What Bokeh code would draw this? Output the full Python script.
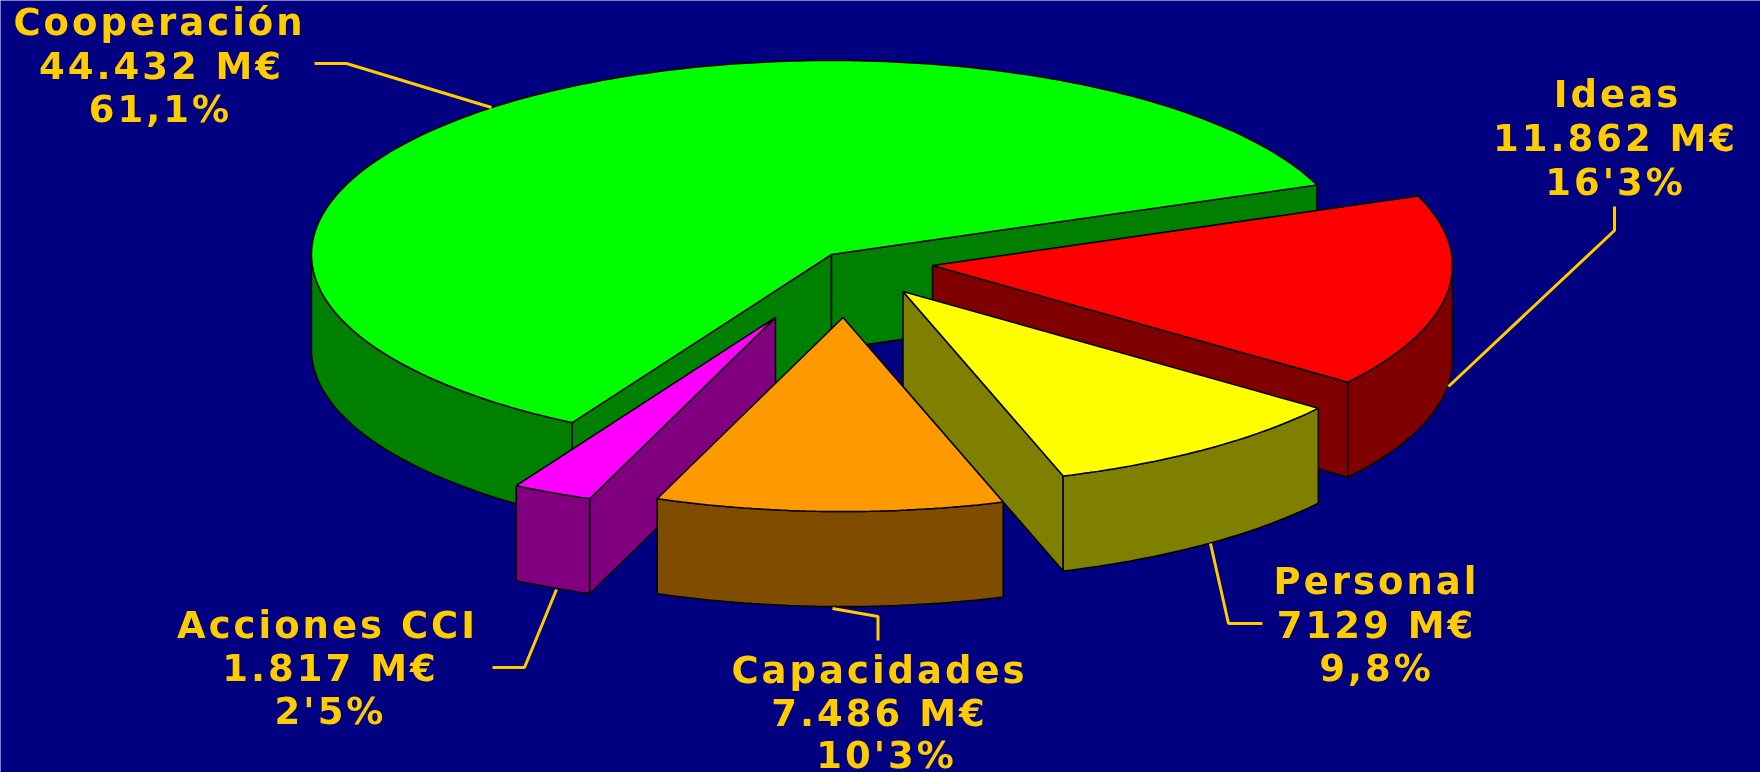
import numpy as np
from bokeh.plotting import figure
from bokeh.models import Range1d, ColumnDataSource
from bokeh.core.properties import value
from bokeh.embed import file_html
from bokeh.resources import INLINE

# ---- data (clockwise from the Ideas slice)
names = ["Ideas", "Personal", "Capacidades", "Acciones CCI", "Cooperación"]
amount_labels = ["11.862 M€", "7129 M€", "7.486 M€", "1.817 M€", "44.432 M€"]
share_labels = ["16'3%", "9,8%", "10'3%", "2'5%", "61,1%"]
# size of each slice as it is drawn in the picture, in percent
drawn_shares = [16.11, 9.74, 10.80, 2.49, 60.86]

# ---- styles
top_colors = ["#FF0000", "#FFFF00", "#FF9900", "#FF00FF", "#00FF00"]
side_colors = ["#800000", "#808000", "#804D00", "#800080", "#008000"]
BG = "#000080"
GOLD = "#FFCC00"

# ---- layout, in page pixels
W, H = 1760, 772
RX, RY, DEPTH = 520, 194, 95
START_DEG = 21.0
LETTER_SPACING = 3
TEXT_DY = -12
slice_centres = [(932, 265), (902.5, 291), (842.5, 317), (775, 317), (831, 254)]
draw_order = [4, 0, 1, 3, 2]
label_xy = [
    [(1617, 106), (1615, 150), (1615, 194)],
    [(1376, 593), (1376, 637), (1376, 680)],
    [(879, 682), (879, 725), (886, 767)],
    [(327, 637), (330, 680), (330, 723)],
    [(159, 34), (161, 78), (160, 121)],
]
leaders = [
    [(1614, 206), (1614, 230), (1448, 386)],
    [(1210, 543), (1228, 623), (1262, 623)],
    [(832, 608), (877.5, 616), (877.5, 640)],
    [(556, 589), (524, 667), (492, 667)],
    [(314, 63), (346, 63), (491, 107)],
]

p = figure(width=W, height=H, output_backend="svg", toolbar_location=None,
           x_range=Range1d(0, W), y_range=Range1d(H, 0),
           x_axis_type=None, y_axis_type=None,
           min_border=0, outline_line_color=None,
           background_fill_color=BG, border_fill_color=BG,
           styles={"position": "fixed", "left": "0", "top": "0",
                   "letter-spacing": f"{LETTER_SPACING}px"})
p.grid.visible = False

fractions = np.array(drawn_shares, dtype=float) / sum(drawn_shares)
ends = START_DEG - np.cumsum(fractions) * 360
starts = ends + fractions * 360


def rim(cx, cy, deg):
    t = np.radians(deg)
    return cx + RX * np.cos(t), cy - RY * np.sin(t)


def poly(xs, ys, color, lw=1.5):
    p.patch(list(xs), list(ys), fill_color=color, line_color="black", line_width=lw)


for i in draw_order:
    cx, cy = slice_centres[i]
    a0, a1 = starts[i], ends[i]
    # radial faces that look towards the viewer
    for ang, seen in ((a0, np.cos(np.radians(a0)) < 0), (a1, np.cos(np.radians(a1)) > 0)):
        if seen:
            ex, ey = rim(cx, cy, ang)
            poly([cx, ex, ex, cx], [cy, ey, ey + DEPTH, cy + DEPTH], side_colors[i])
    # outer wall: only the front half of the ellipse shows
    wall = np.r_[a1, np.arange(np.ceil(a1), np.floor(a0) + 1.0), a0]
    wall = wall[np.sin(np.radians(wall)) <= 1e-9]
    if wall.size > 1:
        wx, wy = rim(cx, cy, wall)
        poly(np.r_[wx, wx[::-1]], np.r_[wy, wy[::-1] + DEPTH], side_colors[i])
    # top
    arc = np.r_[a1, np.arange(np.ceil(a1), np.floor(a0) + 1.0), a0]
    tx, ty = rim(cx, cy, arc)
    poly(np.r_[cx, tx], np.r_[cy, ty], top_colors[i])

for path in leaders:
    p.line([q[0] for q in path], [q[1] for q in path], line_color=GOLD, line_width=3)

rows = {"x": [], "y": [], "t": []}
for i in range(len(names)):
    for (x, y), t in zip(label_xy[i], (names[i], amount_labels[i], share_labels[i])):
        # the extra letter spacing runs to the right of the measured centre
        rows["x"].append(x - len(t) * LETTER_SPACING / 2)
        rows["y"].append(y + TEXT_DY)
        rows["t"].append(t)
p.text("x", "y", text="t", source=ColumnDataSource(rows), text_color=GOLD,
       text_font=value("DejaVu Sans"), text_font_style="bold", text_font_size="37px",
       text_align="center", text_baseline="alphabetic")

open("out.html", "w").write(file_html(p, INLINE))
